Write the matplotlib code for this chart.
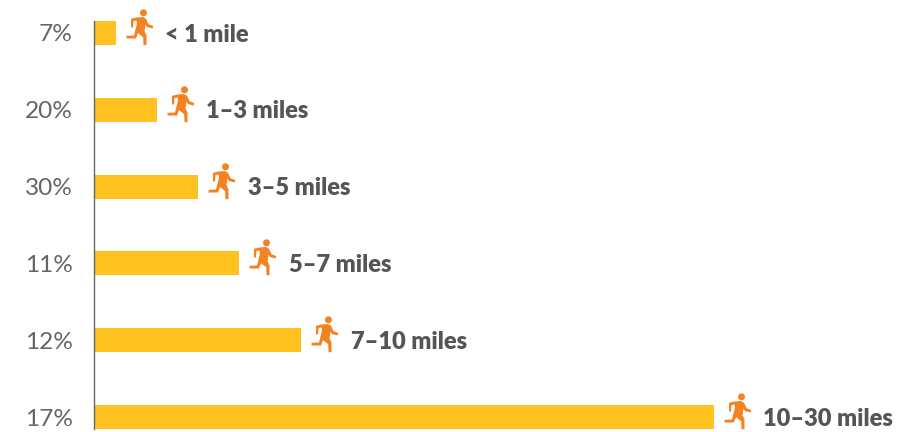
import matplotlib
matplotlib.use("Agg")
import matplotlib.pyplot as plt
from matplotlib.path import Path
from matplotlib.transforms import ScaledTranslation
import numpy as np

plt.rcParams['font.family'] = ['Lato', 'DejaVu Sans']

shares = ["7%", "20%", "30%", "11%", "12%", "17%"]
miles = [1, 3, 5, 7, 10, 30]
labels = ["< 1 mile", "1–3 miles", "3–5 miles", "5–7 miles", "7–10 miles", "10–30 miles"]

BAR = "#FFC220"
ICON = "#F58220"
TEXT = "#555555"

W, H = 897, 432
fig = plt.figure(figsize=(W / 100, H / 100), dpi=100, facecolor="white")
ax = fig.add_axes([95 / W, (H - 429) / H, (W - 95) / W, 408 / H])

pos = np.arange(len(miles))
ax.barh(pos, miles, height=24 / 76.8, color=BAR, linewidth=0)
ax.set_xlim(0, (W - 95) / 20.63)
ax.set_ylim(5.156, -0.156)
ax.set_yticks(pos)
ax.set_yticklabels(shares)
ax.tick_params(axis="y", length=0, pad=15.5, labelsize=17.6, labelcolor="#666666")
ax.set_xticks([])
for s in ["top", "right", "bottom"]:
    ax.spines[s].set_visible(False)
ax.spines["left"].set_color("#666666")
ax.spines["left"].set_linewidth(1.0)
ax.spines["left"].set_position(("outward", 0.5))

# runner pictogram outline, in pixels about its centre
body = np.array([
    (-3.0, 10.0), (3.5, 10.5), (6.5, 8.7), (9.0, 3.3), (13.7, 1.5), (13.3, -1.0),
    (7.5, 0.4), (6.0, 3.0), (5.0, -3.7), (7.0, -8.0), (7.0, -17.7), (4.0, -17.7),
    (3.7, -9.7), (-1.5, -5.7), (-3.5, -11.0), (-13.0, -11.0), (-13.0, -8.3),
    (-5.5, -8.0), (-4.0, -2.0), (-2.5, 4.0), (-3.0, 7.0), (-6.0, 6.5), (-6.5, 0.0),
    (-8.5, 0.0), (-8.5, 8.7), (-3.0, 10.0),
])
theta = np.linspace(0, 2 * np.pi, 25)
head = np.column_stack([4.0 + 3.5 * np.cos(theta), 14.7 + 3.5 * np.sin(theta)])
verts = np.vstack([body, head])
codes = ([Path.MOVETO] + [Path.LINETO] * (len(body) - 2) + [Path.CLOSEPOLY]
         + [Path.MOVETO] + [Path.LINETO] * (len(head) - 2) + [Path.CLOSEPOLY])
runner = Path(verts, codes)
extent = np.abs(verts).max()

offset = ScaledTranslation(23 / 100, 6 / 100, fig.dpi_scale_trans)
ax.plot(miles, pos, linestyle="none", marker=runner,
        markersize=2 * extent * 72 / 100, color=ICON, markeredgewidth=0,
        transform=ax.transData + offset, clip_on=False)

for m, p, lab in zip(miles, pos, labels):
    ax.annotate(lab, (m, p), xytext=(49.5 * 0.72, -1.2), textcoords="offset points",
                va="center", ha="left", fontsize=17, fontweight="heavy",
                color=TEXT, annotation_clip=False)

fig.savefig("out.png", dpi=100, facecolor="white")
